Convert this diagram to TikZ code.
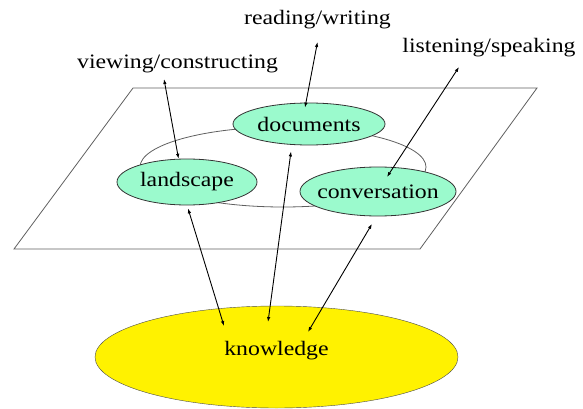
\documentclass[tikz,border=0pt]{standalone}
\usepackage{fontspec}
\setmainfont{Liberation Serif}[FakeStretch=1.16]
\usetikzlibrary{shapes.geometric,arrows.meta}
\definecolor{mint}{RGB}{155,250,205}
\definecolor{planegray}{RGB}{95,95,95}
\tikzset{
  topic/.style={ellipse, draw=black!80, fill=mint, inner sep=-6pt, line width=0.8pt},
  lbl/.style={inner sep=0pt, anchor=base},
  twoway/.style={{Latex[length=5pt,width=3.5pt]}-{Latex[length=5pt,width=3.5pt]}, line width=0.9pt},
}
\begin{document}
\begin{tikzpicture}[x=1pt, y=-1pt, font=\fontsize{20.5pt}{24pt}\selectfont]
        \useasboundingbox (0,0) rectangle (583,409);
        \draw[planegray, line width=0.8pt] (14,249) -- (420,249) -- (537,88) -- (133,88) -- cycle;
        \draw[planegray, line width=0.8pt] (283,167) ellipse (143pt and 40pt);
        \node[topic, minimum width=152pt, minimum height=42pt] (doc) at (309,124) {documents};
        \node[topic, minimum width=140pt, minimum height=46pt] (land) at (187,182) {landscape};
        \node[topic, minimum width=156pt, minimum height=49pt] (conv) at (378,191.5) {conversation};
        \node[ellipse, draw=black!70, fill=yellow, inner sep=0pt, minimum width=363pt, minimum height=102pt, text depth=18pt] (know) at (276.5,357) {knowledge};
        \node[lbl] (view) at (177.5,69) {viewing/constructing};
        \node[lbl] (read) at (317.5,25) {reading/writing};
        \node[lbl] (listen) at (489,53) {listening/speaking};
        \draw[twoway] ([xshift=-13.5pt,yshift=-10pt]view.base) -- (land.110);
        \draw[twoway] ([yshift=-17pt]read.base) -- ([xshift=-4pt,yshift=-5pt]doc.north);
        \draw[twoway] ([xshift=-30pt,yshift=-14pt]listen.base) -- ([xshift=9pt,yshift=14.5pt]conv.center);
        \draw[twoway] ([xshift=1pt,yshift=-3pt]land.south) -- ([xshift=-52.5pt,yshift=31pt]know.center);
        \draw[twoway] ([xshift=-18pt,yshift=-6pt]doc.south) -- ([xshift=-8.5pt,yshift=35pt]know.center);
        \draw[twoway] ([xshift=-6pt,yshift=-7.5pt]conv.south) -- ([xshift=31.5pt,yshift=25pt]know.center);
\end{tikzpicture}
\end{document}
